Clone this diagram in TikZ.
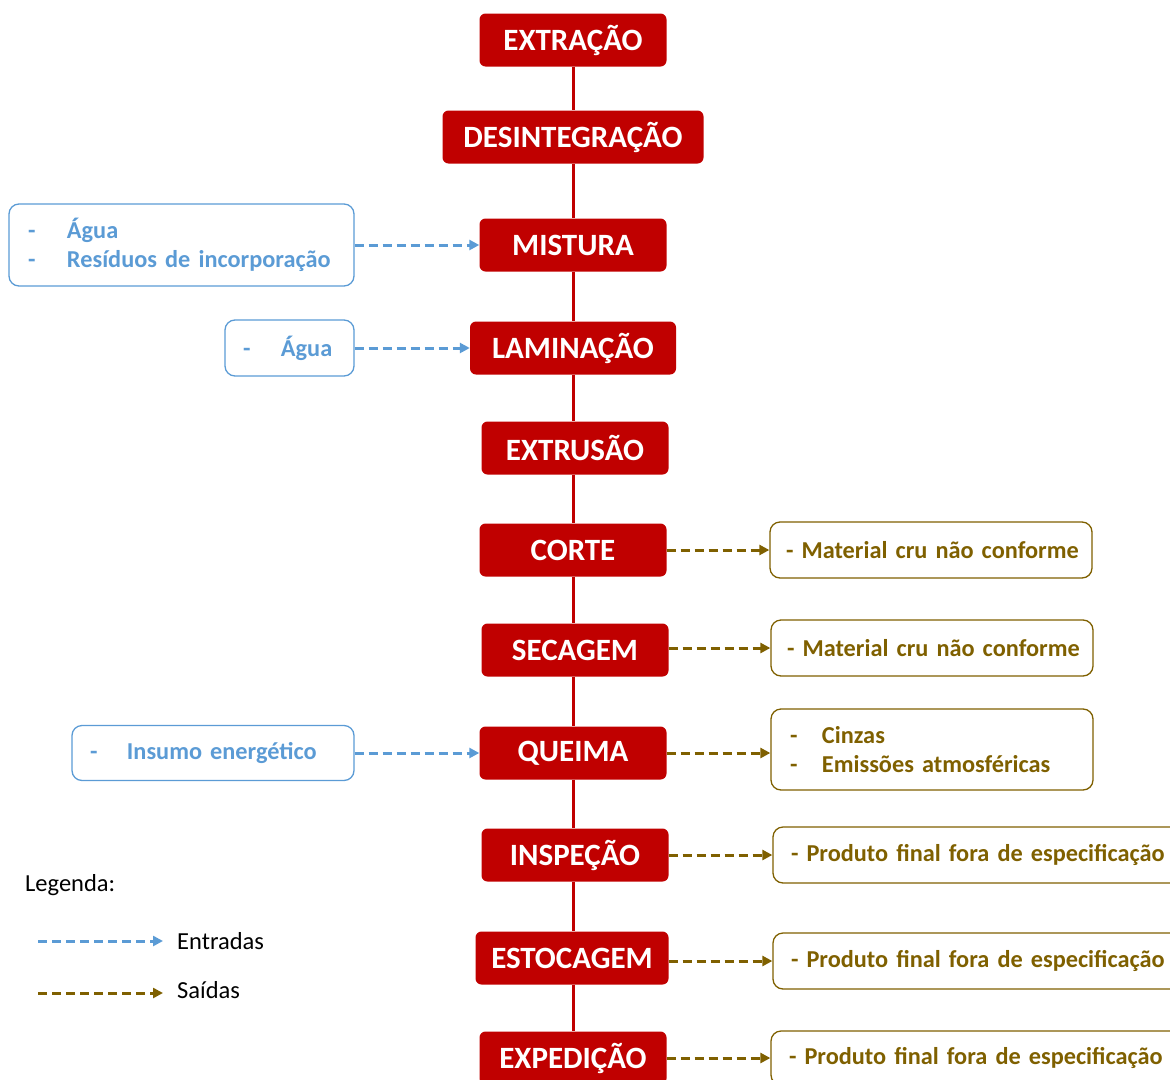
\documentclass[tikz,border=0pt]{standalone}
\usepackage{fontspec}
\setmainfont{Carlito}
\usetikzlibrary{arrows.meta}

\definecolor{vermelho}{HTML}{C00000}
\definecolor{azul}{HTML}{5B9BD5}
\definecolor{marrom}{HTML}{7F6000}

\tikzset{
  etapa/.style={fill=vermelho, rounded corners=6pt, text=white, inner sep=0pt,
    font=\fontsize{31}{33}\selectfont\bfseries, minimum width=187pt, minimum height=53pt},
  caixa/.style={line width=1.3pt, rounded corners=10pt, align=left, inner ysep=0pt,
    font=\fontsize{24.3}{29}\selectfont\bfseries, minimum height=56pt},
  entrada/.style={caixa, draw=azul, text=azul},
  saida/.style={caixa, draw=marrom, text=marrom},
  fluxo/.style={vermelho, line width=3pt},
  setaent/.style={azul, line width=3pt, dash pattern=on 9pt off 5pt, -{Triangle[length=10pt,width=10pt]}},
  setasai/.style={marrom, line width=3pt, dash pattern=on 9pt off 5pt, -{Triangle[length=10pt,width=10pt]}}
}

\begin{document}
\begin{tikzpicture}[x=1pt, y=-1pt]
  \useasboundingbox (0,0) rectangle (1170,1079);

  % etapas do processo
  \node[etapa] (extracao) at (573,40) {EXTRAÇÃO};
  \node[etapa, minimum width=261pt] (desintegracao) at (573,137) {DESINTEGRAÇÃO};
  \node[etapa] (mistura) at (573,245) {MISTURA};
  \node[etapa, minimum width=206pt] (laminacao) at (573,348) {LAMINAÇÃO};
  \node[etapa] (extrusao) at (575,448) {EXTRUSÃO};
  \node[etapa] (corte) at (573,550) {CORTE};
  \node[etapa] (secagem) at (575,650) {SECAGEM};
  \node[etapa] (queima) at (573,753) {QUEIMA};
  \node[etapa] (inspecao) at (575,855) {INSPEÇÃO};
  \node[etapa, minimum width=193pt] (estocagem) at (572,958) {ESTOCAGEM};
  \node[etapa] (expedicao) at (573,1058) {EXPEDIÇÃO};

  % linha entre as etapas
  \foreach \a/\b in {extracao/desintegracao, desintegracao/mistura, mistura/laminacao,
      laminacao/extrusao, extrusao/corte, corte/secagem, secagem/queima,
      queima/inspecao, inspecao/estocagem, estocagem/expedicao}
    \draw[fluxo] (\a.south -| extracao) -- (\b.north -| extracao);

  % entradas
  \node[entrada, inner xsep=19pt, text width=307pt, minimum height=82pt] (entmistura) at (181.5,245)
    {\makebox[39pt][l]{-}Água\\\makebox[39pt][l]{-}Resíduos de incorporação};
  \node[entrada, inner xsep=18pt, text width=93pt] (entlaminacao) at (289.5,348)
    {\makebox[38pt][l]{-}Água};
  \node[entrada, inner xsep=18pt, text width=246pt, minimum height=55pt] (entqueima) at (213,753)
    {\makebox[37pt][l]{-}Insumo energético};

  \draw[setaent] (entmistura.east) -- (mistura.west);
  \draw[setaent] (entlaminacao.east) -- (laminacao.west);
  \draw[setaent] (entqueima.east) -- (queima.west);

  % saidas
  \node[saida, inner xsep=16pt, text width=290pt] (saicorte) at (931,550)
    {\mbox{- Material cru não conforme}};
  \node[saida, inner xsep=16pt, text width=290pt] (saisecagem) at (932,648)
    {\mbox{- Material cru não conforme}};
  \node[saida, inner xsep=19pt, text width=284pt, minimum height=81pt] (saiqueima) at (932,749.5)
    {\makebox[32pt][l]{-}Cinzas\\\makebox[32pt][l]{-}Emissões atmosféricas};
  \node[saida, inner xsep=18pt, text width=384pt] (saiinspecao) at (983,855)
    {\mbox{- Produto final fora de especificação}};
  \node[saida, inner xsep=18pt, text width=384pt] (saiestocagem) at (983,961)
    {\mbox{- Produto final fora de especificação}};
  \node[saida, inner xsep=18pt, text width=386pt, minimum height=54pt] (saiexpedicao) at (982,1058)
    {\mbox{- Produto final fora de especificação}};

  \draw[setasai] (corte.east) -- (corte.east -| saicorte.west);
  \draw[setasai] (secagem.east |- saisecagem) -- (saisecagem.west);
  \draw[setasai] (queima.east) -- (queima.east -| saiqueima.west);
  \draw[setasai] (inspecao.east) -- (inspecao.east -| saiinspecao.west);
  \draw[setasai] (estocagem.east |- saiestocagem) -- (saiestocagem.west);
  \draw[setasai] (expedicao.east) -- (expedicao.east -| saiexpedicao.west);

  % legenda
  \node[anchor=base west, font=\fontsize{24.5}{28}\selectfont, inner sep=0pt] (legenda) at (25,891) {Legenda:};
  \coordinate (ent0) at (38,941);
  \coordinate (ent1) at (163,941);
  \coordinate (sai0) at (38,993);
  \coordinate (sai1) at (163,993);
  \draw[setaent] (ent0) -- (ent1);
  \draw[setasai] (sai0) -- (sai1);
  \node[anchor=west, font=\fontsize{24.5}{28}\selectfont, inner sep=0pt] (entradas) at (177,941) {Entradas};
  \node[anchor=west, font=\fontsize{24.5}{28}\selectfont, inner sep=0pt] (saidas) at (177,990) {Saídas};

\end{tikzpicture}
\end{document}
